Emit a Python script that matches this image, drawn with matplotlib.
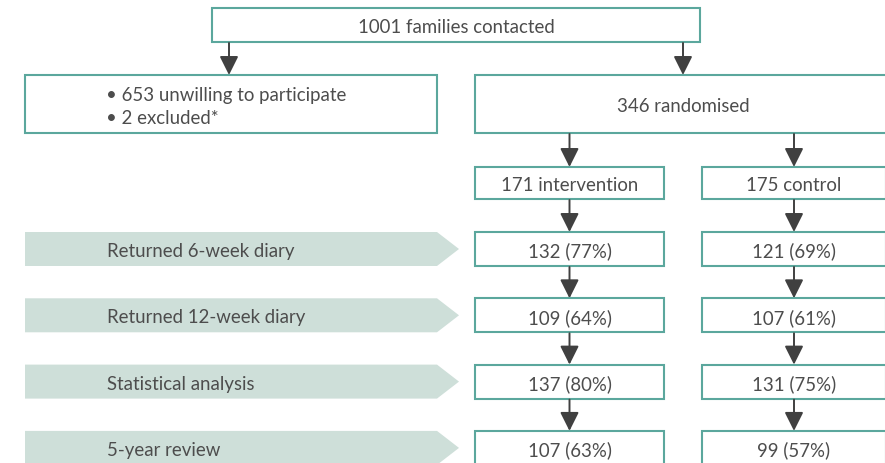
import matplotlib

matplotlib.use("Agg")
import matplotlib.pyplot as plt
from matplotlib.patches import Rectangle, Polygon, FancyArrowPatch

plt.rcParams["font.family"] = ["Lato", "DejaVu Sans"]

# study flow numbers
CONTACTED = 1001
UNWILLING = 653
EXCLUDED = 2
RANDOMISED = 346
ARMS = ["intervention", "control"]
ARM_SIZES = [171, 175]

STAGES = [
    "Returned 6-week diary",
    "Returned 12-week diary",
    "Statistical analysis",
    "5-year review",
]
INTERVENTION_N = [132, 109, 137, 107]
INTERVENTION_PCT = [77, 64, 80, 63]
CONTROL_N = [121, 107, 131, 99]
CONTROL_PCT = [69, 61, 75, 57]

EDGE = "#5ba79d"
BANNER = "#cedfd9"
INK = "#4d4d4d"
ARROW = "#404040"
FS = 13.4
DY = 1.5  # Lato sits a little high with va="center"


def box(ax, x0, y0, x1, y1, text, ha="center", tx=None):
    ax.add_patch(Rectangle((x0, y0), x1 - x0, y1 - y0, facecolor="white",
                           edgecolor=EDGE, linewidth=1.5))
    if text is not None:
        if tx is None:
            tx = (x0 + x1) / 2
        ax.text(tx, (y0 + y1) / 2 + DY, text, ha=ha, va="center", color=INK,
                fontsize=FS)


def arrow(ax, x, y0, y1):
    ax.add_patch(FancyArrowPatch((x, y0), (x, y1),
                                 arrowstyle="-|>,head_length=0.6,head_width=0.3",
                                 mutation_scale=19, color=ARROW, linewidth=1.4,
                                 shrinkA=0, shrinkB=0))


def main():
    fig = plt.figure(figsize=(8.85, 4.64), dpi=100)
    ax = fig.add_axes([0, 0, 1, 1])
    ax.set_xlim(0, 885)
    ax.set_ylim(464, 0)
    ax.axis("off")

    box(ax, 212, 9, 700, 43, f"{CONTACTED} families contacted")
    arrow(ax, 229, 44, 76)
    arrow(ax, 683, 44, 76)

    box(ax, 25, 76, 437, 134, None)
    ax.text(106, 94 + DY, f"\u2022 {UNWILLING} unwilling to participate",
            ha="left", va="center", color=INK, fontsize=FS)
    ax.text(106, 117 + DY, f"\u2022 {EXCLUDED} excluded*", ha="left",
            va="center", color=INK, fontsize=FS)
    box(ax, 475, 76, 891, 134, f"{RANDOMISED} randomised")

    arm_x = [(475, 664), (702, 886)]
    for (x0, x1), name, n in zip(arm_x, ARMS, ARM_SIZES):
        cx = (x0 + x1) / 2
        arrow(ax, cx, 135, 168)
        box(ax, x0, 168, x1, 200, f"{n} {name}")

    prev_bottom = 200
    for i, stage in enumerate(STAGES):
        top = 233 + i * 66.3
        bottom = top + 34
        ax.add_patch(Polygon([(25, top), (437, top), (459, (top + bottom) / 2),
                              (437, bottom), (25, bottom)], closed=True,
                             facecolor=BANNER, edgecolor="none"))
        ax.text(107, (top + bottom) / 2 + DY, stage, ha="left", va="center",
                color=INK, fontsize=FS)
        vals = [(INTERVENTION_N[i], INTERVENTION_PCT[i]),
                (CONTROL_N[i], CONTROL_PCT[i])]
        for (x0, x1), (n, pct) in zip(arm_x, vals):
            cx = (x0 + x1) / 2
            arrow(ax, cx, prev_bottom + 1, top)
            box(ax, x0, top, x1, bottom, f"{n} ({pct}%)")
        prev_bottom = bottom

    fig.savefig("out.png", dpi=100)


if __name__ == "__main__":
    main()
